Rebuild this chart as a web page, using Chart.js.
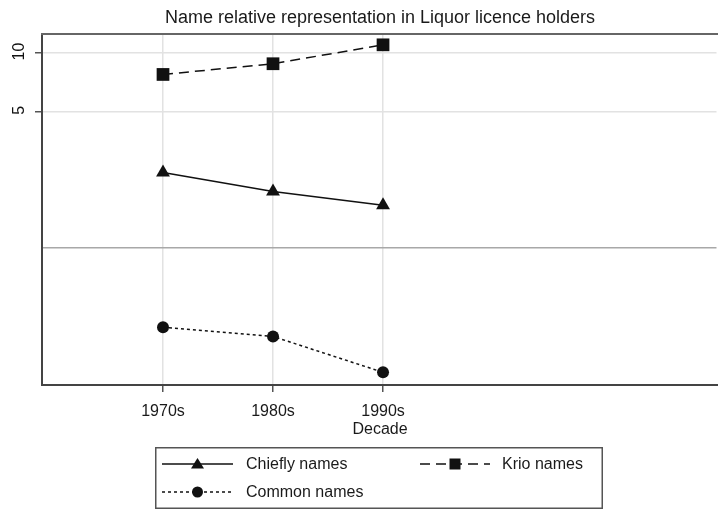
<!DOCTYPE html>
<html><head><meta charset="utf-8">
<script src="https://cdn.jsdelivr.net/npm/chart.js@4/dist/chart.umd.min.js"></script>
<style>html,body{margin:0;padding:0;background:#fff}#wrap{width:718px;height:512px;position:relative}</style>
</head><body><div id="wrap"><canvas id="c" width="718" height="512"></canvas></div>
<script>
const decades = [1970, 1980, 1990];
const decadeLabels = ['1970s', '1980s', '1990s'];
const chieflyNames = [2.43, 1.94, 1.65];
const krioNames = [7.72, 8.76, 10.95];
const commonNames = [0.391, 0.351, 0.230];
const yTickValues = [1, 5, 10];
const yTickLabels = ['', '5', '10'];
const titleText = 'Name relative representation in Liquor licence holders';
const xTitleText = 'Decade';

const FONT = "'Liberation Sans', Arial, sans-serif";
const INK = '#111';

function toPoints(vals) { return decades.map((d, i) => ({ x: d, y: vals[i] })); }

const series = [
  { label: 'Chiefly names', data: toPoints(chieflyNames), pointStyle: 'triangle', pointRadius: 8, borderDash: [] },
  { label: 'Krio names', data: toPoints(krioNames), pointStyle: 'rect', pointRadius: 9, borderDash: [10, 6] },
  { label: 'Common names', data: toPoints(commonNames), pointStyle: 'circle', pointRadius: 6, borderDash: [3, 3] }
];

const isDecade = c => c.tick && decades.includes(c.tick.value);

function legendMarker(ctx, style, x, y) {
  ctx.beginPath();
  if (style === 'triangle') {
    ctx.moveTo(x, y - 6); ctx.lineTo(x + 6.5, y + 4.5); ctx.lineTo(x - 6.5, y + 4.5); ctx.closePath();
  } else if (style === 'rect') {
    ctx.rect(x - 5.5, y - 5.5, 11, 11);
  } else {
    ctx.arc(x, y, 5.5, 0, Math.PI * 2);
  }
  ctx.fill();
  ctx.beginPath();
}

const extras = {
  id: 'extras',
  afterDraw(chart) {
    const ctx = chart.ctx;
    const a = chart.chartArea;
    const ys = chart.scales.y;
    ctx.save();
    ctx.beginPath();
    ctx.setLineDash([]);
    // top border of plot region
    ctx.fillStyle = '#666';
    ctx.fillRect(a.left - 1, Math.round(a.top) - 1, a.right - a.left + 1, 2);
    // rotated y tick labels
    ctx.fillStyle = INK;
    ctx.font = '16px ' + FONT;
    ctx.textAlign = 'center';
    ctx.textBaseline = 'middle';
    yTickValues.forEach((v, i) => {
      if (!yTickLabels[i]) return;
      const py = ys.getPixelForValue(v);
      ctx.save();
      ctx.translate(20, py - 1);
      ctx.rotate(-Math.PI / 2);
      ctx.fillText(yTickLabels[i], 0, 0);
      ctx.restore();
    });
    // legend frame (filled edges)
    ctx.fillStyle = '#555';
    const L = 155, T = 447, R = 603, B = 509;
    ctx.fillRect(L, T, R - L, 1.5);
    ctx.fillRect(L, B - 1.5, R - L, 1.5);
    ctx.fillRect(L, T, 1.5, B - T);
    ctx.fillRect(R - 1.5, T, 1.5, B - T);
    const items = [
      { s: series[0], x0: 162, x1: 233, y: 464, tx: 246 },
      { s: series[1], x0: 420, x1: 490, y: 464, tx: 502 },
      { s: series[2], x0: 162, x1: 233, y: 492, tx: 246 }
    ];
    items.forEach(it => {
      ctx.strokeStyle = INK;
      ctx.fillStyle = INK;
      ctx.lineWidth = 1.5;
      ctx.setLineDash(it.s.borderDash);
      ctx.beginPath(); ctx.moveTo(it.x0, it.y); ctx.lineTo(it.x1, it.y); ctx.stroke();
      ctx.setLineDash([]);
      legendMarker(ctx, it.s.pointStyle, (it.x0 + it.x1) / 2, it.y);
      ctx.font = '16px ' + FONT;
      ctx.textAlign = 'left';
      ctx.textBaseline = 'middle';
      ctx.fillStyle = '#1a1a1a';
      ctx.fillText(it.s.label, it.tx, it.y + 1);
    });
    // the reference plot region has no right-hand frame line
    ctx.fillStyle = '#fff';
    ctx.fillRect(a.right - 1.5, Math.round(a.top) + 1, 3, a.bottom - a.top - 3);
    ctx.restore();
  }
};

new Chart(document.getElementById('c'), {
  type: 'line',
  data: {
    datasets: series.map(s => ({
      label: s.label,
      data: s.data,
      borderColor: INK,
      backgroundColor: INK,
      pointBackgroundColor: INK,
      pointBorderColor: INK,
      pointBorderWidth: 0,
      borderWidth: 1.5,
      borderDash: s.borderDash,
      pointStyle: s.pointStyle,
      pointRadius: s.pointRadius,
      tension: 0,
      clip: false
    }))
  },
  options: {
    responsive: false,
    animation: false,
    devicePixelRatio: 1,
    layout: { autoPadding: false, padding: { left: 0, right: 0, top: 0, bottom: 74 } },
    plugins: {
      legend: { display: false },
      tooltip: { enabled: false },
      title: {
        display: true, text: titleText, fullSize: false,
        color: '#1a1a1a', font: { family: FONT, size: 18, weight: 'normal', lineHeight: 1.2 },
        padding: { top: 7, bottom: 5 }
      }
    },
    scales: {
      x: {
        type: 'linear', min: 1959, max: 2020.45,
        afterBuildTicks: sc => { sc.ticks = decades.map(v => ({ value: v })); },
        ticks: {
          callback: v => decadeLabels[decades.indexOf(v)] || '',
          color: '#1a1a1a', font: { family: FONT, size: 16, lineHeight: 1.0 }, padding: 12, maxRotation: 0, autoSkip: false
        },
        grid: {
          color: c => isDecade(c) ? '#e2e2e2' : 'rgba(0,0,0,0)',
          tickColor: c => isDecade(c) ? '#555' : 'rgba(0,0,0,0)',
          lineWidth: 1.5, tickLength: 7, tickWidth: 1.5
        },
        border: { color: '#444', width: 2 },
        title: { display: true, text: xTitleText, color: '#1a1a1a', font: { family: FONT, size: 16, lineHeight: 1.0 }, padding: { top: -10, bottom: 0 } }
      },
      y: {
        type: 'logarithmic', min: 0.198, max: 12.5,
        afterBuildTicks: sc => { sc.ticks = yTickValues.map(v => ({ value: v })); },
        afterFit: sc => { sc.width = 42; },
        ticks: { display: false },
        grid: {
          color: c => (c.tick && c.tick.value === 1) ? '#a8a8a8' : (c.tick && yTickValues.includes(c.tick.value) ? '#e2e2e2' : 'rgba(0,0,0,0)'),
          lineWidth: 1.5,
          tickColor: c => (c.tick && (c.tick.value === 5 || c.tick.value === 10)) ? '#555' : 'rgba(0,0,0,0)',
          tickLength: 7, tickWidth: 1.5
        },
        border: { color: '#444', width: 2 }
      }
    }
  },
  plugins: [extras]
});
</script>
</body></html>
